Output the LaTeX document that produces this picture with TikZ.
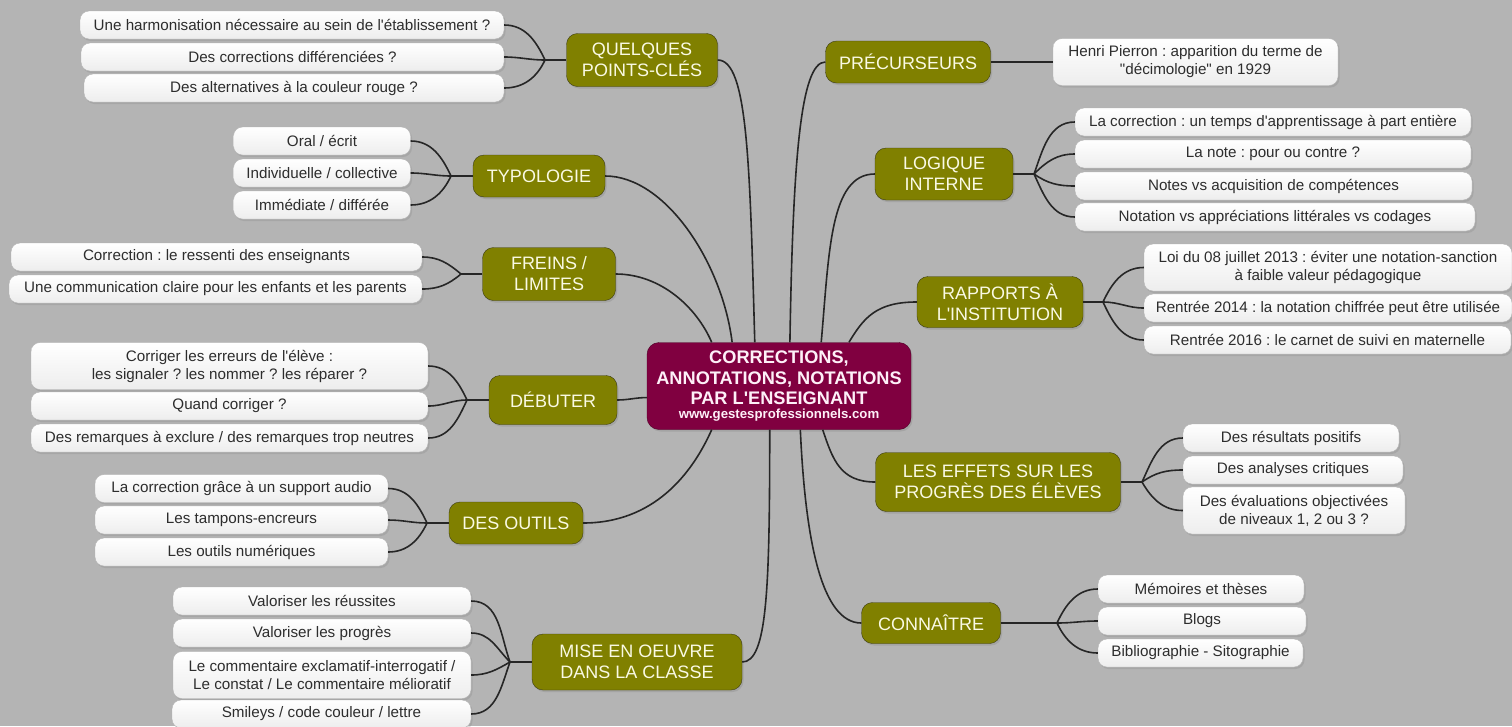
\documentclass[tikz,border=0pt]{standalone}
\usepackage{fontspec}
\setmainfont{Liberation Sans}[Ligatures=TeXOff]
\usetikzlibrary{shadows, positioning}
\definecolor{bgcolor}{RGB}{180,180,180}
\definecolor{branchcolor}{RGB}{128,128,0}
\definecolor{branchedge}{RGB}{60,60,20}
\definecolor{centercolor}{RGB}{128,0,64}
\definecolor{leaftext}{RGB}{45,45,45}
\definecolor{branchtext}{RGB}{250,250,228}

\tikzset{
  leaf/.style={draw=gray!60, rounded corners=9pt, top color=white, bottom color=gray!14,
    minimum height=28pt, minimum width=#1, inner sep=2pt, align=center, text=leaftext,
    font=\fontsize{15.2}{18}\selectfont,
    drop shadow={shadow xshift=1.5pt, shadow yshift=-2pt, opacity=0.25}},
  leaf/.default=200pt,
  branch/.style 2 args={draw=branchedge, fill=branchcolor, rounded corners=11pt,
    minimum width=#1, minimum height=#2, inner sep=2pt, align=center, text=branchtext,
    font=\fontsize{18}{21}\selectfont,
    drop shadow={shadow xshift=1.5pt, shadow yshift=-2pt, opacity=0.3}},
  centre/.style={draw=centercolor!60!black, fill=centercolor, rounded corners=12pt,
    minimum width=264pt, minimum height=87pt, inner sep=2pt, align=center,
    text=white!94!magenta, font=\bfseries\fontsize{18.2}{20.5}\selectfont,
    drop shadow={shadow xshift=1.5pt, shadow yshift=-2pt, opacity=0.3}},
  link/.style={line width=1.6pt, black!85},
}
\frenchspacing

\begin{document}
\begin{tikzpicture}[x=1pt, y=1pt]
    % Background
    \fill[bgcolor] (0,0) rectangle (1512,-726);
    \useasboundingbox (0,0) rectangle (1512,-726);

    % Central topic
    \node[centre] (c) at (779,-386) {CORRECTIONS,\\ANNOTATIONS, NOTATIONS\\PAR L'ENSEIGNANT\\[-7pt]{\fontsize{13.2}{14}\selectfont www.gestesprofessionnels.com}};

    % Main branches - left
    \node[branch={151pt}{53pt}] (quel) at (642,-60) {QUELQUES\\POINTS-CLÉS};
    \node[branch={132pt}{42pt}] (typo) at (539,-176) {TYPOLOGIE};
    \node[branch={133pt}{53pt}] (frein) at (549,-274) {FREINS /\\LIMITES};
    \node[branch={128pt}{49pt}] (debut) at (553,-400) {DÉBUTER};
    \node[branch={134pt}{42pt}] (outil) at (516,-523) {DES OUTILS};
    \node[branch={210pt}{56pt}] (mise) at (637,-662) {MISE EN OEUVRE\\DANS LA CLASSE};

    % Main branches - right
    \node[branch={165pt}{42pt}] (prec) at (908,-62) {PRÉCURSEURS};
    \node[branch={138pt}{52pt}] (logi) at (944,-174) {LOGIQUE\\INTERNE};
    \node[branch={166pt}{51pt}] (rapp) at (1000,-302) {RAPPORTS À\\L'INSTITUTION};
    \node[branch={245pt}{59pt}] (effet) at (998,-482) {LES EFFETS SUR LES\\PROGRÈS DES ÉLÈVES};
    \node[branch={139pt}{41pt}] (conn) at (931,-623) {CONNAÎTRE};

    % Quelques points-clés
    \node[leaf=424pt] (q1) at (292,-25) {Une harmonisation nécessaire au sein de l'établissement ?};
    \node[leaf=423pt] (q2) at (292.5,-57) {Des corrections différenciées ?};
    \node[leaf=420pt] (q3) at (294,-88) {Des alternatives à la couleur rouge ?};

    % Typologie
    \node[leaf=177pt] (t1) at (322,-141) {Oral / écrit};
    \node[leaf=177pt] (t2) at (322,-173) {Individuelle / collective};
    \node[leaf=177pt] (t3) at (322,-205) {Immédiate / différée};

    % Freins / limites
    \node[leaf=411pt] (f1) at (216.5,-257) {Correction : le ressenti des enseignants};
    \node[leaf=413pt] (f2) at (215.5,-289) {Une communication claire pour les enfants et les parents};

    % Debuter
    \node[leaf=397pt, minimum height=47pt] (d1) at (229.5,-366) {Corriger les erreurs de l'élève :\\les signaler ? les nommer ? les réparer ?};
    \node[leaf=397pt] (d2) at (229.5,-406) {Quand corriger ?};
    \node[leaf=397pt] (d3) at (229.5,-438) {Des remarques à exclure / des remarques trop neutres};

    % Des outils
    \node[leaf=293pt] (o1) at (241.5,-488.5) {La correction grâce à un support audio};
    \node[leaf=293pt] (o2) at (241.5,-520) {Les tampons-encreurs};
    \node[leaf=293pt] (o3) at (241.5,-552) {Les outils numériques};

    % Mise en oeuvre
    \node[leaf=298pt] (m1) at (322,-601) {Valoriser les réussites};
    \node[leaf=298pt] (m2) at (322,-633) {Valoriser les progrès};
    \node[leaf=298pt, minimum height=47pt] (m3) at (322,-675) {Le commentaire exclamatif-interrogatif /\\Le constat / Le commentaire mélioratif};
    \node[leaf=299pt] (m4) at (321.5,-714) {Smileys / code couleur / lettre};

    % Precurseurs
    \node[leaf=285pt, minimum height=47pt] (p1) at (1195.5,-62) {Henri Pierron : apparition du terme de\\"décimologie" en 1929};

    % Logique interne
    \node[leaf=396pt] (l1) at (1273,-122) {La correction : un temps d'apprentissage à part entière};
    \node[leaf=396pt] (l2) at (1273,-154) {La note : pour ou contre ?};
    \node[leaf=397pt] (l3) at (1273.5,-186) {Notes vs acquisition de compétences};
    \node[leaf=400pt] (l4) at (1275,-217) {Notation vs appréciations littérales vs codages};

    % Rapports a l'institution
    \node[leaf=368pt, minimum height=47pt] (r1) at (1328,-267.5) {Loi du 08 juillet 2013 : éviter une notation-sanction\\à faible valeur pédagogique};
    \node[leaf=368pt] (r2) at (1328,-308) {Rentrée 2014 : la notation chiffrée peut être utilisée};
    \node[leaf=367pt] (r3) at (1327.5,-340) {Rentrée 2016 : le carnet de suivi en maternelle};

    % Les effets
    \node[leaf=216pt] (e1) at (1291,-438) {Des résultats positifs};
    \node[leaf=220pt] (e2) at (1293,-470) {Des analyses critiques};
    \node[leaf=222pt, minimum height=47pt] (e3) at (1294,-510.5) {Des évaluations objectivées\\de niveaux 1, 2 ou 3 ?};

    % Connaitre
    \node[leaf=206pt] (k1) at (1201,-589) {Mémoires et thèses};
    \node[leaf=208pt] (k2) at (1202,-621) {Blogs};
    \node[leaf=205pt] (k3) at (1200.5,-653) {Bibliographie - Sitographie};

    % Links from the centre
    \draw[link] (c.119) .. controls +(-5,180) and +(30,0) .. (quel.east);
    \draw[link] (c.137) .. controls +(-10,80) and +(60,0) .. (typo.east);
    \draw[link] (c.147) .. controls +(-15,35) and +(45,0) .. (frein.east);
    \draw[link] (c.185) to[out=180, in=0] (debut.east);
    \draw[link] (c.213) .. controls +(-20,-45) and +(70,0) .. (outil.east);
    \draw[link] (c.258) .. controls +(0,-160) and +(25,0) .. (mise.east);
    \draw[link] (c.76) .. controls +(3,180) and +(-25,0) .. (prec.west);
    \draw[link] (c.46) .. controls +(8,90) and +(-45,0) .. (logi.west);
    \draw[link] (c.32) .. controls +(15,25) and +(-40,0) .. (rapp.west);
    \draw[link] (c.315) .. controls +(10,-30) and +(-35,0) .. (effet.west);
    \draw[link] (c.296) .. controls +(5,-110) and +(-40,0) .. (conn.west);

    % Forks to the leaves
    \coordinate (quelf) at (545,-60);
    \coordinate (typof) at (451,-176);
    \coordinate (freinf) at (461,-274);
    \coordinate (debutf) at (467,-400);
    \coordinate (outilf) at (427,-523);
    \coordinate (misef) at (510,-662);
    \coordinate (logif) at (1034,-174);
    \coordinate (rappf) at (1103,-302);
    \coordinate (effetf) at (1142,-482);
    \coordinate (connf) at (1057,-623);

    \draw[link] (quel.west) -- (quelf);
    \draw[link] (typo.west) -- (typof);
    \draw[link] (frein.west) -- (freinf);
    \draw[link] (debut.west) -- (debutf);
    \draw[link] (outil.west) -- (outilf);
    \draw[link] (mise.west) -- (misef);
    \draw[link] (logi.east) -- (logif);
    \draw[link] (rapp.east) -- (rappf);
    \draw[link] (effet.east) -- (effetf);
    \draw[link] (conn.east) -- (connf);
    \draw[link] (prec.east) -- (p1.west);

    \foreach \leaf/\ang in {q1/115, q2/180, q3/245}
        \draw[link] (quelf) to[out=\ang, in=0] (\leaf.east);
    \foreach \leaf/\ang in {t1/115, t2/180, t3/245}
        \draw[link] (typof) to[out=\ang, in=0] (\leaf.east);
    \foreach \leaf/\ang in {f1/140, f2/220}
        \draw[link] (freinf) to[out=\ang, in=0] (\leaf.east);
    \foreach \leaf/\ang in {d1/115, d2/180, d3/245}
        \draw[link] (debutf) to[out=\ang, in=0] (\leaf.east);
    \foreach \leaf/\ang in {o1/115, o2/180, o3/245}
        \draw[link] (outilf) to[out=\ang, in=0] (\leaf.east);
    \foreach \leaf/\ang in {m1/110, m2/135, m3/210, m4/250}
        \draw[link] (misef) to[out=\ang, in=0] (\leaf.east);
    \foreach \leaf/\ang in {l1/70, l2/45, l3/-35, l4/-65}
        \draw[link] (logif) to[out=\ang, in=180] (\leaf.west);
    \foreach \leaf/\ang in {r1/65, r2/0, r3/-65}
        \draw[link] (rappf) to[out=\ang, in=180] (\leaf.west);
    \foreach \leaf/\ang in {e1/65, e2/35, e3/-60}
        \draw[link] (effetf) to[out=\ang, in=180] (\leaf.west);
    \foreach \leaf/\ang in {k1/65, k2/0, k3/-65}
        \draw[link] (connf) to[out=\ang, in=180] (\leaf.west);
\end{tikzpicture}
\end{document}
